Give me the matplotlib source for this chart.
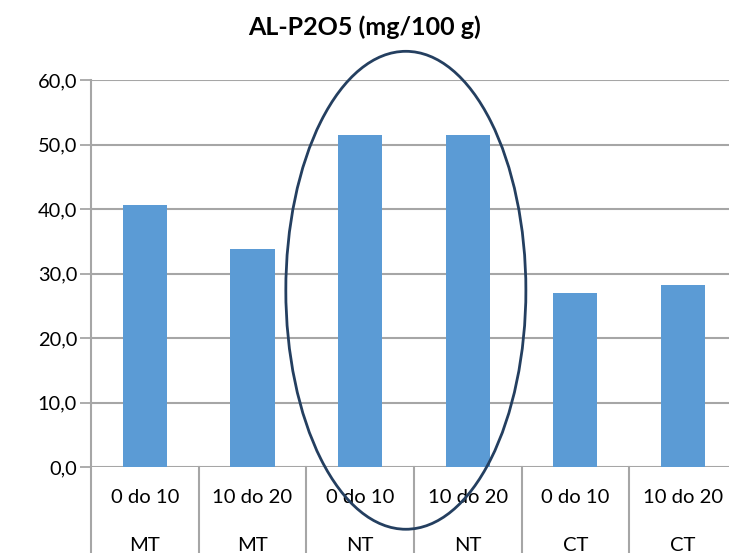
import matplotlib.pyplot as plt
from matplotlib.patches import Ellipse
from matplotlib.ticker import FuncFormatter
import matplotlib.transforms as mtransforms

plt.rcParams['font.family'] = ['Lato', 'DejaVu Sans']

depths = ["0 do 10", "10 do 20", "0 do 10", "10 do 20", "0 do 10", "10 do 20"]
systems = ["MT", "MT", "NT", "NT", "CT", "CT"]
values = [40.6, 33.8, 51.5, 51.5, 27.0, 28.2]

grid_col = '#A6A6A6'
bar_col = '#5B9BD5'

fig = plt.figure(figsize=(7.29, 5.53), dpi=100)
ax = fig.add_axes([0.1248, 0.1555, 0.886, 0.6998])

x = list(range(len(values)))
ax.bar(x, values, width=0.41, color=bar_col, zorder=3)

ax.set_xlim(-0.5, len(values) - 0.5)
ax.set_ylim(0, 60)
ax.set_yticks(range(0, 61, 10))
ax.yaxis.set_major_formatter(FuncFormatter(lambda v, p: f"{v:.1f}".replace('.', ',')))
ax.tick_params(axis='y', length=8, width=1.3, color=grid_col, labelsize=14.4, pad=2)
ax.tick_params(axis='x', bottom=False, labelbottom=False)
ax.yaxis.grid(True, color=grid_col, linewidth=1.5, zorder=0)
for s in ['top', 'right', 'bottom', 'left']:
    ax.spines[s].set_visible(False)

# linha do eixo esquerdo e separadores das categorias
trans = mtransforms.blended_transform_factory(ax.transData, ax.transAxes)
for b in [-0.5 + i for i in range(len(values) + 1)]:
    top = 1.0 if b == -0.5 else 0.0
    ax.plot([b, b], [-0.23, top], transform=trans, color=grid_col,
            linewidth=1.5, clip_on=False, zorder=2)

# duas linhas de rótulos
for i in x:
    ax.text(i, -0.078, depths[i], transform=trans, ha='center', va='center', fontsize=14.6)
    ax.text(i, -0.202, systems[i], transform=trans, ha='center', va='center', fontsize=14.6)

# elipse em volta das barras NT
ax.add_patch(Ellipse((2.425, 27.4), 2.23, 74.1, fill=False, edgecolor='#243F60',
                     linewidth=2, clip_on=False, zorder=4))

fig.text(0.5, 0.951, "AL-P2O5 (mg/100 g)", ha='center', va='center',
         fontsize=18, fontweight='bold')

fig.savefig('out.png', dpi=100)
